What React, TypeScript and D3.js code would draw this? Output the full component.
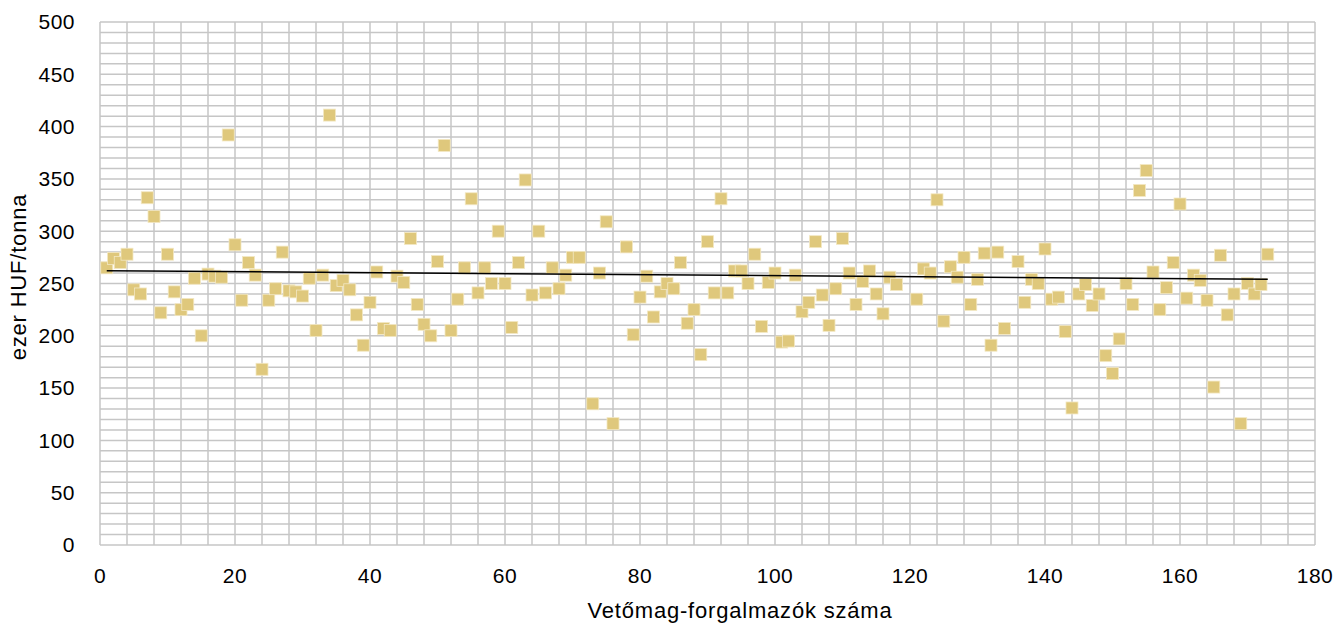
import React from "react";
import * as d3 from "d3";

// Price per firm (ezer HUF/tonna), indexed by firm number 1..173; null = no point
const prices: (number | null)[] = [
  265, 274, 270, 278, 244, 240, 332, 314, 222, 278,
  242, 225, 230, 255, 200, 259, 257, 256, 392, 287,
  234, 270, 258, 168, 234, 245, 280, 243, 242, 238,
  255, 205, 258, 411, 248, 253, 244, 220, 191, 232,
  261, 207, 205, 257, 251, 293, 230, 211, 200, 271,
  382, 205, 235, 265, 331, 241, 265, 250, 300, 250,
  208, 270, 349, 239, 300, 241, 265, 245, 258, 275,
  275, null, 135, 260, 309, 116, null, 285, 201, 237,
  257, 218, 242, 250, 245, 270, 212, 225, 182, 290,
  241, 331, 241, 262, 262, 250, 278, 209, 251, 260,
  194, 195, 258, 223, 232, 290, 239, 210, 245, 293,
  260, 230, 252, 262, 240, 221, 256, 249, null, null,
  235, 264, 260, 330, 214, 266, 256, 275, 230, 254,
  279, 191, 280, 207, null, 271, 232, 254, 250, 283,
  235, 237, 204, 131, 240, 249, 229, 240, 181, 164,
  197, 250, 230, 339, 358, 261, 225, 246, 270, 326,
  236, 258, 253, 234, 151, 277, 220, 240, 116, 250,
  240, 249, 278,
];

// Linear trendline as drawn in the source: [firm number, value] at both ends
const trendX = [1, 173];
const trendY = [262.2, 254.0];

const xTicks = [0, 20, 40, 60, 80, 100, 120, 140, 160, 180];
const yTicks = [0, 50, 100, 150, 200, 250, 300, 350, 400, 450, 500];
const xTitle = "Vetőmag-forgalmazók száma";
const yTitle = "ezer HUF/tonna";

export default function App() {
  const W = 1336, H = 627;
  const left = 100, right = 1315, top = 22, bottom = 545;
  const x = d3.scaleLinear().domain([0, 180]).range([left, right]);
  const y = d3.scaleLinear().domain([0, 500]).range([bottom, top]);

  const pts = prices
    .map((v, i) => ({ x: i + 1, y: v }))
    .filter((p) => p.y !== null) as { x: number; y: number }[];

  const trend = d3.line<number>()
    .x((_, i) => x(trendX[i]))
    .y((v) => y(v));

  const vGrid = d3.range(0, 181, 4);
  const hGrid = d3.range(0, 501, 10);
  const font = "'Liberation Sans', Arial, sans-serif";
  const sq = 12;

  return (
    <svg width={W} height={H} style={{ position: "absolute", left: 0, top: 0, background: "#fff" }} fontFamily={font}>
      <g stroke="#c6c6c6" strokeWidth={1.5}>
        {hGrid.map((v) => (
          <line key={"h" + v} x1={left} x2={right} y1={y(v)} y2={y(v)} />
        ))}
        {vGrid.map((v) => (
          <line key={"v" + v} x1={x(v)} x2={x(v)} y1={top} y2={bottom} />
        ))}
      </g>
      <g>
        {pts.map((p) => (
          <rect
            key={p.x}
            x={x(p.x) - sq / 2}
            y={y(p.y) - sq / 2}
            width={sq}
            height={sq}
            fill="#dfc87c"
            stroke="#f3e8c4"
            strokeWidth={0.8}
          />
        ))}
      </g>
      <path d={trend(trendY) || ""} fill="none" stroke="#000" strokeWidth={1.5} />
      <g fill="#000">
        <g fontSize={21} letterSpacing={0.5}>
          {yTicks.map((v) => (
            <text key={"yt" + v} x={75} y={y(v)} dy="0.35em" textAnchor="end">
              {v}
            </text>
          ))}
          {xTicks.map((v) => (
            <text key={"xt" + v} x={x(v)} y={583} textAnchor="middle">
              {v}
            </text>
          ))}
        </g>
        <g fontSize={22} letterSpacing={0.8}>
          <text x={740} y={618} textAnchor="middle">
            {xTitle}
          </text>
          <text transform={`translate(26, 277) rotate(-90)`} textAnchor="middle">
            {yTitle}
          </text>
        </g>
      </g>
    </svg>
  );
}
